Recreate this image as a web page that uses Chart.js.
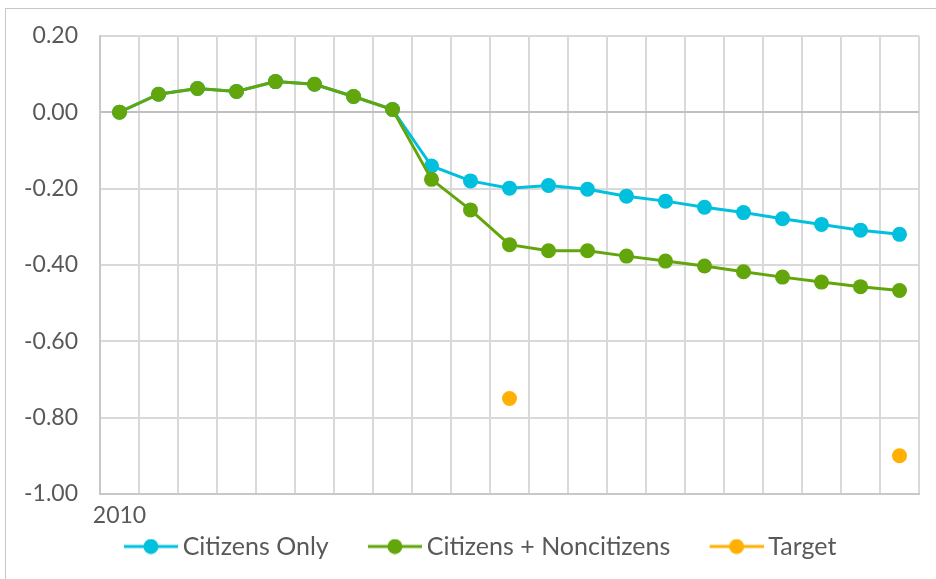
<!DOCTYPE html>
<html>
<head>
<meta charset="utf-8">
<script src="https://cdn.jsdelivr.net/npm/chart.js@4/dist/chart.umd.min.js"></script>
<style>
  body { margin: 0; background: #fff; overflow: hidden; }
  #wrap { position: relative; width: 936px; height: 579px; }
  #frame { position: absolute; left: 5px; top: 8px; width: 1000px; height: 1000px;
           border-top: 1px solid #c8c8c8; border-left: 1px solid #c8c8c8; }
  #grafico { position: absolute; left: 0; top: 0; }
</style>
</head>
<body>
<div id="wrap">
  <div id="frame"></div>
  <canvas id="grafico" width="936" height="579"></canvas>
</div>
<script>
// dados
const anos = ['2010', '2011', '2012', '2013', '2014', '2015', '2016', '2017', '2018', '2019', '2020',
  '2021', '2022', '2023', '2024', '2025', '2026', '2027', '2028', '2029', '2030'];
const citizensOnly = [0.00, 0.047, 0.062, 0.054, 0.080, 0.073, 0.041, 0.007, -0.141, -0.180, -0.199,
  -0.192, -0.202, -0.220, -0.233, -0.249, -0.263, -0.279, -0.294, -0.309, -0.320];
const citizensNon = [0.00, 0.047, 0.062, 0.054, 0.080, 0.073, 0.041, 0.007, -0.176, -0.256, -0.347,
  -0.363, -0.363, -0.377, -0.390, -0.403, -0.418, -0.432, -0.445, -0.457, -0.467];
const target = [null, null, null, null, null, null, null, null, null, null, -0.75,
  null, null, null, null, null, null, null, null, null, -0.90];
const yTicks = [0.2, 0, -0.2, -0.4, -0.6, -0.8, -1.0];

const textColor = '#595959';
const gridColor = '#d9d9d9';
const fonte = 'Lato, "DejaVu Sans", sans-serif';
const tamLegenda = 25;

// legenda: espaço vazio antes + linha com ponto no meio
const linhaLeg = 54, gapTexto = 5, espacoAntes = 29;
const larguraBox = linhaLeg + gapTexto + espacoAntes - tamLegenda / 2;
function iconeLegenda(cor) {
  const centro = larguraBox / 2;
  const fim = larguraBox + tamLegenda / 2 - gapTexto;
  const meia = fim - centro;
  const c = document.createElement('canvas');
  c.width = Math.round(meia * 2); c.height = 16;
  const g = c.getContext('2d');
  const x1 = c.width - linhaLeg;
  g.strokeStyle = cor;
  g.lineWidth = 3;
  g.beginPath(); g.moveTo(x1, 8); g.lineTo(c.width, 8); g.stroke();
  g.fillStyle = cor;
  g.beginPath(); g.arc(x1 + linhaLeg / 2, 8, 7.5, 0, Math.PI * 2); g.fill();
  return c;
}

const series = [
  { label: 'Citizens Only', data: citizensOnly, color: '#00c0dd' },
  { label: 'Citizens + Noncitizens', data: citizensNon, color: '#62a60c' },
  { label: 'Target', data: target, color: '#ffb000' }
];

// empurra a legenda um pouco para a direita
const moveLegenda = {
  id: 'moveLegenda',
  afterLayout(chart) {
    chart.legend.left += 6;
    chart.legend.right += 6;
  }
};

const ctx = document.getElementById('grafico').getContext('2d');
new Chart(ctx, {
  type: 'line',
  data: {
    labels: anos,
    datasets: series.map((s, i) => ({
      label: s.label,
      data: s.data,
      borderColor: s.color,
      backgroundColor: s.color,
      borderWidth: 3,
      pointRadius: 7.5,
      pointHoverRadius: 7.5,
      pointBorderWidth: 0,
      tension: 0,
      spanGaps: false,
      order: i === 0 ? 2 : 1
    }))
  },
  plugins: [moveLegenda],
  options: {
    responsive: false,
    animation: false,
    layout: { padding: { top: 27, left: 0, right: 17, bottom: 10 } },
    plugins: {
      tooltip: { enabled: false },
      legend: {
        position: 'bottom',
        labels: {
          color: textColor,
          font: { family: fonte, size: tamLegenda },
          usePointStyle: true,
          pointStyleWidth: larguraBox,
          padding: 10,
          generateLabels: (chart) => series.map((s, i) => ({
            text: s.label,
            fillStyle: s.color,
            strokeStyle: s.color,
            fontColor: textColor,
            pointStyle: iconeLegenda(s.color),
            lineWidth: 0,
            hidden: false,
            datasetIndex: i
          }))
        }
      }
    },
    scales: {
      x: {
        offset: true,
        afterFit: (s) => { s.height = 30; },
        grid: { offset: true, color: gridColor, lineWidth: 2, drawTicks: false },
        border: { color: '#c8c8c8', width: 2 },
        ticks: {
          color: textColor,
          font: { family: fonte, size: 23 },
          autoSkip: false,
          maxRotation: 0,
          padding: 8,
          callback: (v, i) => i === 0 ? anos[i] : ''
        }
      },
      y: {
        min: -1,
        max: 0.2,
        afterFit: (s) => { s.width = 100; },
        afterBuildTicks: (s) => { s.ticks = yTicks.map(v => ({ value: v })); },
        grid: {
          drawTicks: false,
          lineWidth: 2,
          color: (c) => c.tick && c.tick.value === 0 ? '#c0c0c0' : gridColor
        },
        border: { color: '#c8c8c8', width: 2 },
        ticks: {
          color: textColor,
          font: { family: fonte, size: 23 },
          padding: 22,
          callback: (v) => v.toFixed(2)
        }
      }
    }
  }
});
</script>
</body>
</html>
